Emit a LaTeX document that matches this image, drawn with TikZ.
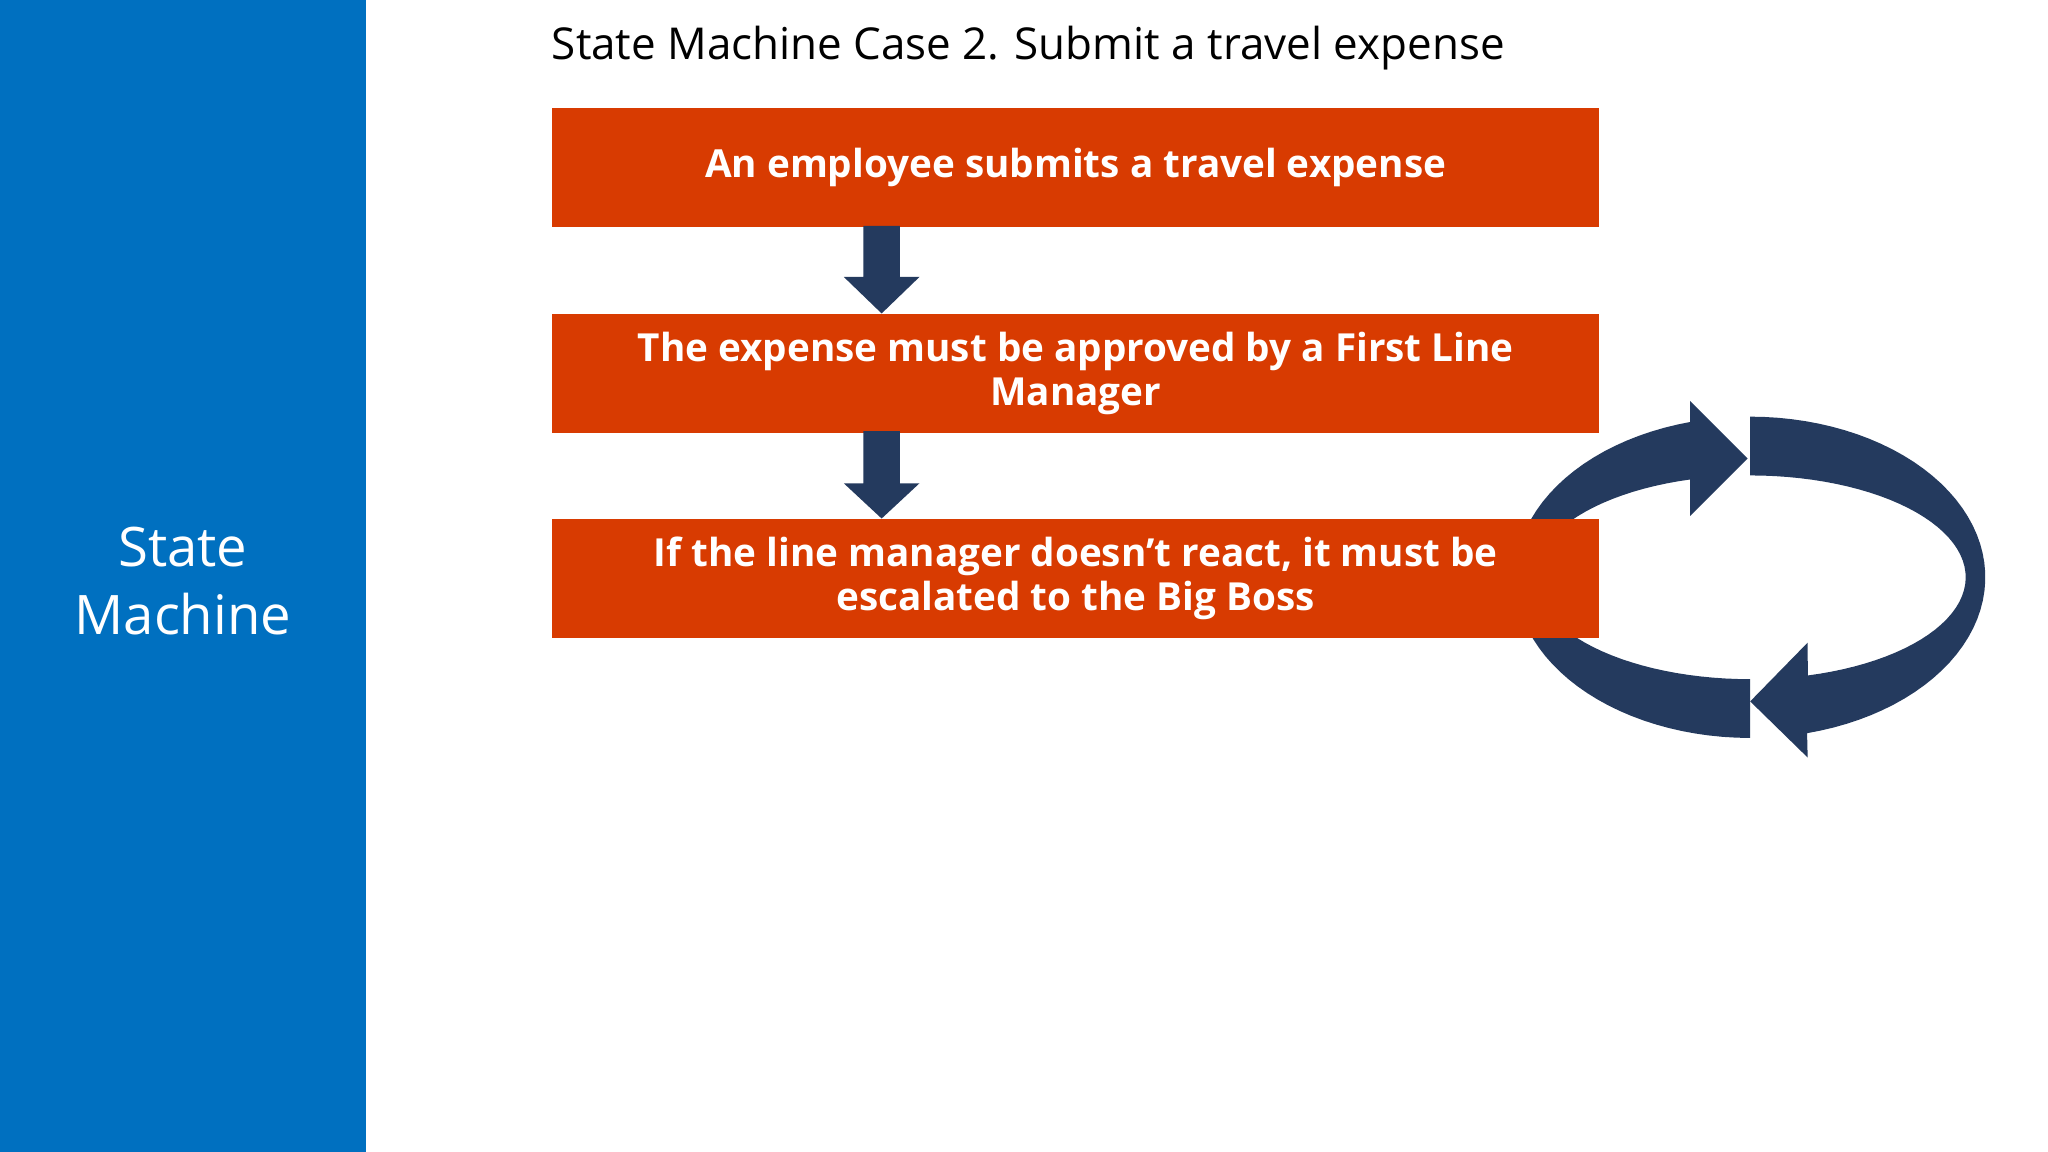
\documentclass[tikz,border=0pt]{standalone}
\usepackage{fontspec}
\setmainfont{Open Sans}
\definecolor{panel}{HTML}{0070C0}
\definecolor{boxc}{HTML}{D83B01}
\definecolor{navy}{HTML}{243A5E}
\begin{document}
\begin{tikzpicture}[x=0.01306cm,y=-0.01306cm,
  stepbox/.style={fill=boxc,draw=none,minimum width=802*0.01306cm,minimum height=91*0.01306cm,anchor=north west,align=center,text=white,font=\fontsize{11}{12.5}\selectfont\bfseries,inner sep=0pt},
  darr/.style={fill=navy,draw=none}]
\useasboundingbox (0,0) rectangle (1568,882);
\fill[white] (0,0) rectangle (1568,882);
\fill[panel] (0,0) rectangle (280,882);
\node[text=white,align=center,font=\fontsize{15.5}{19.5}\selectfont] (side) at (140,445) {State\\Machine};
\node[anchor=west,font=\fontsize{12.5}{15}\selectfont,inner sep=0pt] (title) at (422,37) {State Machine Case 2. Submit a travel expense};
% cycle arrows
\fill[navy] plot[domain=-90:76,samples=50] ({1340+180*cos(\x)},{442+123*sin(\x)})
  -- (1384,580) -- (1340,537) -- (1384,492)
  -- plot[domain=74.5:-90,samples=50] ({1340+165*cos(\x)},{442+78*sin(\x)}) -- cycle;
\fill[navy] plot[domain=90:255.2,samples=50] ({1340+180*cos(\x)},{442+123*sin(\x)})
  -- (1294,307) -- (1338,351) -- (1294,395)
  -- plot[domain=253.8:90,samples=50] ({1340+165*cos(\x)},{442+78*sin(\x)}) -- cycle;
\node[stepbox] (b1) at (422,82) {An employee submits a travel expense};
\node[stepbox] (b2) at (422,240) {The expense must be approved by a First Line\\Manager};
\node[stepbox] (b3) at (422,397) {If the line manager doesn’t react, it must be\\escalated to the Big Boss};
\fill[darr] (661,173) -- (689,173) -- (689,212) -- (704,212) -- (675,240) -- (646,212) -- (661,212) -- cycle;
\fill[darr] (661,330) -- (689,330) -- (689,370) -- (704,370) -- (675,397) -- (646,370) -- (661,370) -- cycle;
\end{tikzpicture}
\end{document}
